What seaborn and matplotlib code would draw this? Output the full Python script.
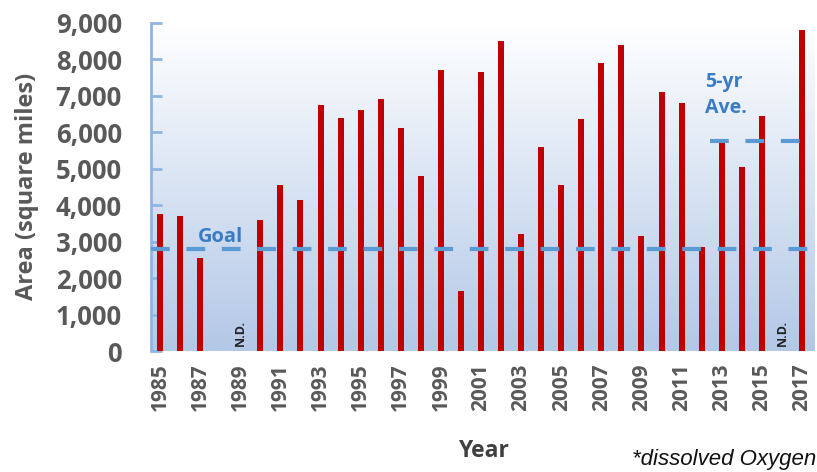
import numpy as np
import pandas as pd
import matplotlib
matplotlib.use("Agg")
import matplotlib.pyplot as plt
import seaborn as sns
from matplotlib.colors import LinearSegmentedColormap

sns.set_theme(style="white")
plt.rcParams['font.family'] = ['Open Sans', 'DejaVu Sans']

# ---- data ----
years = list(range(1985, 2018))
area = [3750, 3700, 2550, np.nan, np.nan, 3600, 4550, 4150, 6750, 6400,
        6600, 6900, 6100, 4800, 7700, 1650, 7650, 8500, 3200, 5600,
        4550, 6350, 7900, 8400, 3150, 7100, 6800, 2850, 5800, 5050,
        6450, np.nan, 8800]
nd_years = [1989, 2016]
goal_value = 2800
five_yr_avg = 5750
five_yr_span = [2012.4, 2017]
y_ticks = [0, 1000, 2000, 3000, 4000, 5000, 6000, 7000, 8000, 9000]
x_ticks = list(range(1985, 2018, 2))

df = pd.DataFrame({"Year": years, "Area": area}).dropna()

fig = plt.figure(figsize=(8.17, 4.72), dpi=100)
ax = fig.add_axes([151 / 817, 1 - 351 / 472, (815 - 151) / 817, (351 - 22.7) / 472])

xmin, xmax = 1984.55, 2017.65
ymin, ymax = 0, 9000

# gradient background (white at top, light blue at bottom)
cmap = LinearSegmentedColormap.from_list("bg", ["#ffffff", "#d9e4f3", "#b3c7e7"])
grad = np.linspace(1, 0, 256).reshape(-1, 1)
ax.imshow(grad, cmap=cmap, aspect="auto", extent=[xmin, xmax, ymin, ymax],
          origin="lower", zorder=0)

sns.barplot(data=df, x="Year", y="Area", native_scale=True, width=0.3,
            color="#c00000", saturation=1, ax=ax, zorder=2, edgecolor="none")

dash = (4.5, 4)
ax.plot([xmin, xmax], [goal_value, goal_value], color="#5b9bd5", lw=3,
        dashes=dash, zorder=3)
ax.plot(five_yr_span, [five_yr_avg, five_yr_avg], color="#5b9bd5", lw=3,
        dashes=dash, zorder=3)

ax.text(1986.9, 2990, "Goal", color="#3a7cc4", fontsize=14.5, fontweight="bold",
        ha="left", va="baseline", zorder=4)
ax.text(2012.17, 7230, "5-yr", color="#3a7cc4", fontsize=14,
        fontweight="bold", ha="left", va="baseline", zorder=4)
ax.text(2012.17, 6520, "Ave.", color="#3a7cc4", fontsize=14,
        fontweight="bold", ha="left", va="baseline", zorder=4)

for y in nd_years:
    ax.text(y, 150, "N.D.", rotation=90, fontsize=9, fontweight="bold",
            color="#222222", ha="center", va="bottom", zorder=4)

ax.set_xlim(xmin, xmax)
ax.set_ylim(ymin, ymax)
ax.set_xticks(x_ticks)
ax.set_xticklabels([str(t) for t in x_ticks], rotation=90, fontsize=15,
                   fontweight="bold", color="#595959")
ax.set_yticks(y_ticks)
ax.set_yticklabels([f"{t:,}" for t in y_ticks], fontsize=18.5,
                   fontweight="bold", color="#595959")
ax.tick_params(axis="x", length=0, pad=9)
ax.tick_params(axis="y", direction="in", length=8, width=2, color="#8fb6e2",
               pad=21, left=True)

for s in ["top", "right", "bottom"]:
    ax.spines[s].set_visible(False)
ax.spines["left"].set_color("#8fb6e2")
ax.spines["left"].set_linewidth(2)

ax.set_xlabel("Year", fontsize=16.5, fontweight="bold", color="#404040",
              labelpad=20)
ax.set_ylabel("Area (square miles)", fontsize=17, fontweight="bold",
              color="#595959", labelpad=12)

fig.text(0.999, 0.004, "*dissolved Oxygen", fontsize=16, style="italic",
         family=["Liberation Sans Narrow", "Liberation Sans", "DejaVu Sans"],
         color="#111111", ha="right", va="bottom")

fig.savefig("out.png", dpi=100)
